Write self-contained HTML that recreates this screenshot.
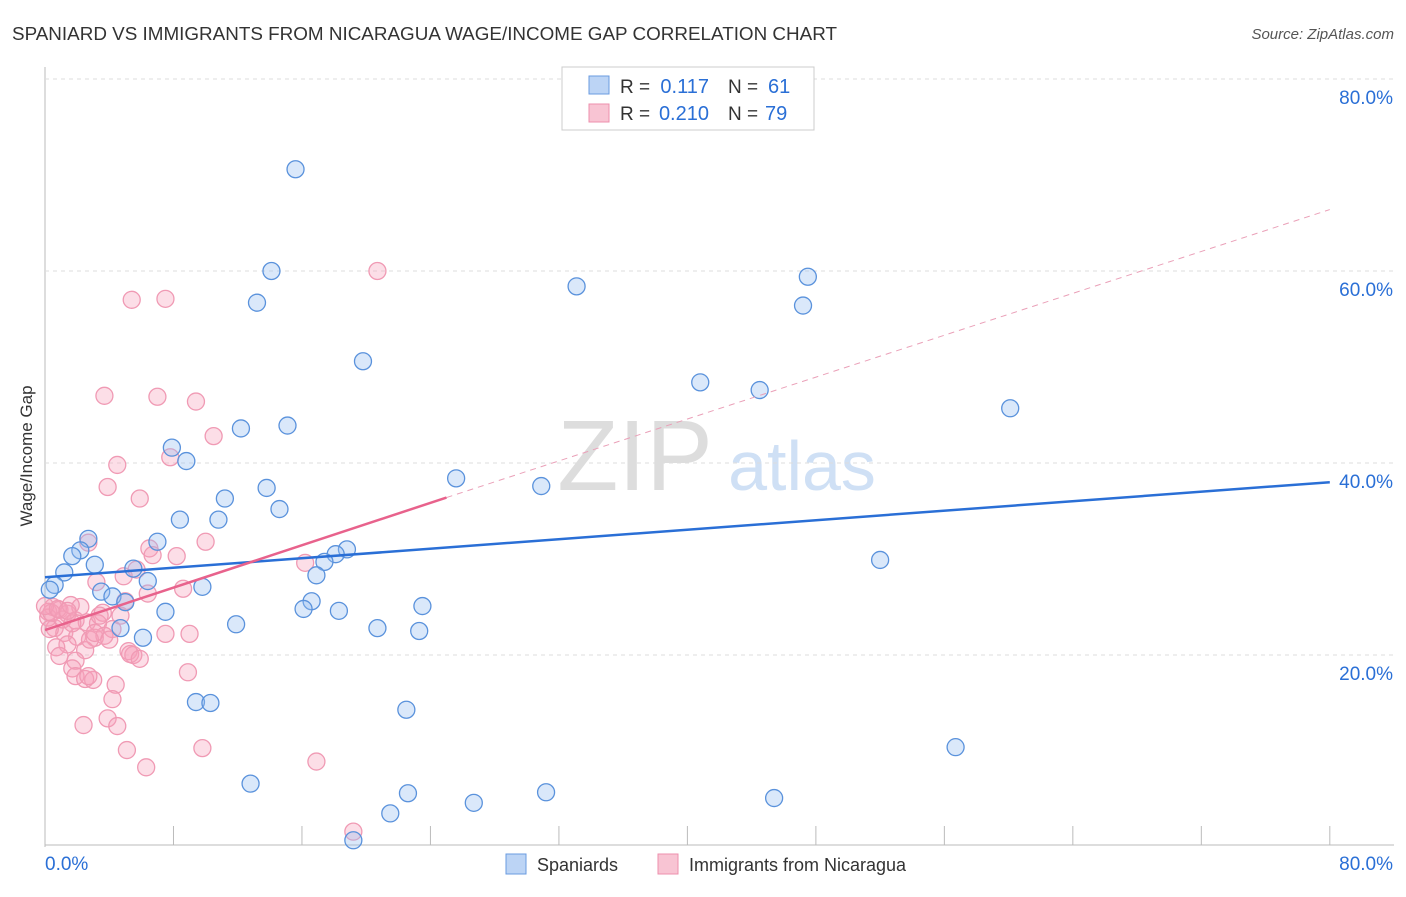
<!DOCTYPE html>
<html><head><meta charset="utf-8"><style>
body{margin:0;background:#fff;font-family:"Liberation Sans",sans-serif}
svg text{font-family:"Liberation Sans",sans-serif}
</style></head><body>
<svg id="c" width="1406" height="892">
<text x="12" y="40" font-size="18" fill="#333" textLength="825" lengthAdjust="spacingAndGlyphs">SPANIARD VS IMMIGRANTS FROM NICARAGUA WAGE/INCOME GAP CORRELATION CHART</text>
<text x="1394" y="39" font-size="15" fill="#555" text-anchor="end" font-style="italic">Source: ZipAtlas.com</text>
<text x="32" y="456" font-size="17" fill="#333" text-anchor="middle" transform="rotate(-90 32 456)">Wage/Income Gap</text>
<text x="635" y="490" font-size="100" fill="#ddd" font-family="Liberation Serif" text-anchor="middle">ZIP</text>
<text x="802" y="490" font-size="70" fill="#cfe0f5" text-anchor="middle">atlas</text>
<g id="grid"></g><g id="marks"></g>
<g>
<rect x="562" y="67" width="252" height="63" fill="#fff" stroke="#ccc"/>
<rect x="589" y="76" width="20" height="18" fill="#bcd4f5" stroke="#6a9be0"/>
<rect x="589" y="104" width="20" height="18" fill="#f8c4d3" stroke="#ee8fac"/>
<text x="620" y="93" font-size="19" fill="#333">R =</text>
<text x="709" y="93" font-size="20" fill="#2a6fd6" text-anchor="end">0.117</text>
<text x="728" y="93" font-size="19" fill="#333">N =</text>
<text x="768" y="93" font-size="20" fill="#2a6fd6">61</text>
<text x="620" y="120" font-size="19" fill="#333">R =</text>
<text x="709" y="120" font-size="20" fill="#2a6fd6" text-anchor="end">0.210</text>
<text x="728" y="120" font-size="19" fill="#333">N =</text>
<text x="765" y="120" font-size="20" fill="#2a6fd6">79</text>
</g>
<g>
<rect x="506" y="854" width="20" height="20" fill="#bcd4f5" stroke="#6a9be0"/>
<text x="537" y="871" font-size="18" fill="#333">Spaniards</text>
<rect x="658" y="854" width="20" height="20" fill="#f8c4d3" stroke="#ee8fac"/>
<text x="689" y="871" font-size="18" fill="#333">Immigrants from Nicaragua</text>
</g>
</svg>
<script>
const yTicks=[20,40,60,80];
const xTickLabels=["0.0%","80.0%"];
const blueX=[15.6,14.1,13.2,33.1,47.5,47.2,19.8,40.8,44.5,60.1,12.2,15.1,7.9,8.8,25.6,30.9,13.8,11.2,14.6,8.4,10.8,2.7,7.0,2.2,1.7,18.8,18.1,17.4,3.1,1.2,16.9,52.0,5.5,6.4,0.6,0.3,3.5,4.2,9.8,5.0,16.6,16.1,18.3,7.5,23.5,11.9,20.7,23.3,4.7,6.1,9.4,10.3,22.5,56.7,12.8,22.6,26.7,31.2,45.4,21.5,19.2];
const blueY=[70.6,60.0,56.7,58.4,59.4,56.4,50.6,48.4,47.6,45.7,43.6,43.9,41.6,40.2,38.4,37.6,37.4,36.3,35.2,34.1,34.1,32.1,31.8,30.9,30.3,31.0,30.5,29.7,29.4,28.6,28.3,29.9,29.0,27.7,27.3,26.8,26.6,26.1,27.1,25.5,25.6,24.8,24.6,24.5,25.1,23.2,22.8,22.5,22.8,21.8,15.1,15.0,14.3,10.4,6.6,5.6,4.6,5.7,5.1,3.5,0.7];
const pinkX=[20.7,5.4,7.5,3.7,7.0,9.4,10.5,4.5,7.8,3.9,5.9,2.7,6.5,6.7,10.0,8.2,16.2,4.9,3.2,5.7,6.4,8.6,5.0,3.6,0.5,0.2,0.9,1.4,1.9,2.6,3.3,4.2,4.7,0.6,1.2,2.0,3.1,3.7,1.4,0.7,2.5,0.9,1.9,5.2,5.5,7.5,9.0,1.7,1.9,2.5,3.0,4.4,8.9,4.2,3.9,2.4,4.5,5.1,9.8,6.3,16.9,19.2,0.2,0.4,1.1,0.0,2.8,3.4,1.7,0.8,2.2,1.6,0.3,3.1,4.0,5.3,5.9,2.7,1.4];
const pinkY=[60.0,57.0,57.1,47.0,46.9,46.4,42.8,39.8,40.6,37.5,36.3,31.7,31.1,30.4,31.8,30.3,29.6,28.2,27.6,28.9,26.4,26.9,25.6,24.4,25.0,24.5,24.7,24.3,23.6,23.4,23.3,22.7,24.1,22.8,22.3,21.9,21.8,22.0,21.1,20.8,20.5,19.9,19.4,20.4,20.0,22.2,22.2,18.6,17.8,17.5,17.4,16.9,18.2,15.4,13.4,12.7,12.6,10.1,10.3,8.3,8.9,1.6,23.9,24.4,23.7,25.1,21.6,24.1,23.3,24.8,25.0,25.2,22.7,22.3,21.6,20.1,19.6,17.8,24.6];
const X=v=>45+v*16.06, Y=v=>847-v*9.6;
const ns="http://www.w3.org/2000/svg";
function mk(t,a,p){const e=document.createElementNS(ns,t);for(const k in a)e.setAttribute(k,a[k]);p.appendChild(e);return e;}
const g=document.getElementById('grid'),m=document.getElementById('marks');
mk('line',{x1:45,y1:67,x2:45,y2:847,stroke:'#bbb'},g);
mk('line',{x1:45,y1:845,x2:1394,y2:845,stroke:'#bbb'},g);
yTicks.forEach(t=>{
 const l=mk('line',{x1:45,y1:Y(t),x2:1394,y2:Y(t),stroke:'#ddd','stroke-dasharray':'4,4'},g);
 
 
 const tx=mk('text',{x:1393,y:Y(t)+25,'font-size':19,fill:'#2a6fd6','text-anchor':'end'},g);tx.textContent=t.toFixed(1)+'%';
 
 
});
for(let i=1;i<=10;i++){mk('line',{x1:X(i*8),y1:826,x2:X(i*8),y2:845,stroke:'#bbb'},g);}
const xl0=mk('text',{x:45,y:870,'font-size':19,fill:'#2a6fd6'},g);xl0.textContent=xTickLabels[0];


const xl1=mk('text',{x:1393,y:870,'font-size':19,fill:'#2a6fd6','text-anchor':'end'},g);xl1.textContent=xTickLabels[1];


pinkX.forEach((x,i)=>{const c=mk('circle',{cx:X(x),cy:Y(pinkY[i]),r:8.5,fill:'rgba(245,160,185,0.35)',stroke:'#f09ab4','stroke-width':1.3},m);
 
 });
blueX.forEach((x,i)=>{const c=mk('circle',{cx:X(x),cy:Y(blueY[i]),r:8.5,fill:'rgba(150,190,240,0.35)',stroke:'#5a92dc','stroke-width':1.3},m);
 
 });
const bl=mk('line',{x1:X(0),y1:Y(28.1),x2:X(80),y2:Y(38.0),stroke:'#2a6fd6','stroke-width':2.5},m);


const pd=mk('line',{x1:X(25),y1:Y(36.4),x2:X(80),y2:Y(66.4),stroke:'#eaa0b8','stroke-width':1,'stroke-dasharray':'6,5'},m);


const pl=mk('line',{x1:X(0),y1:Y(22.6),x2:X(25),y2:Y(36.4),stroke:'#e8628c','stroke-width':2.5},m);


</script>
</body></html>
